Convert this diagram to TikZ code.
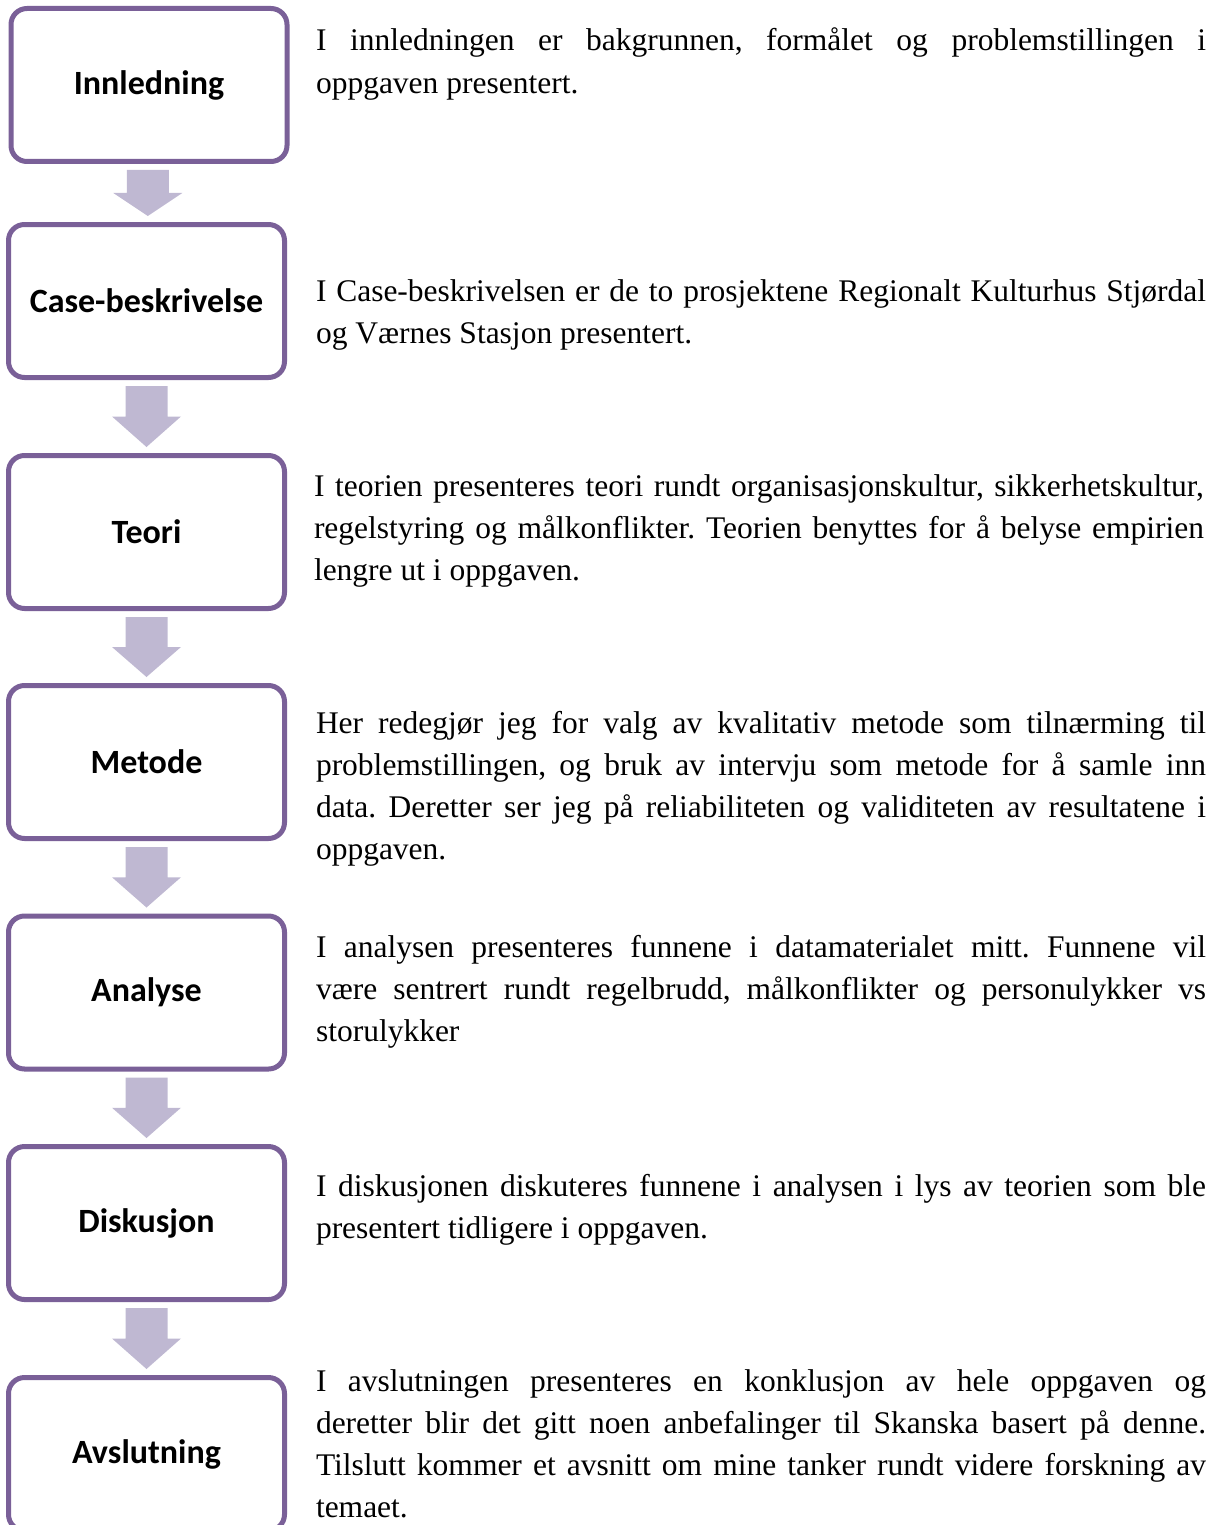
\documentclass[tikz,border=0pt]{standalone}
\usepackage{fontspec}
\setmainfont{Liberation Serif}
\newfontfamily\boxfont{Carlito}
\usetikzlibrary{calc}
\definecolor{boxborder}{RGB}{122,96,152}
\definecolor{arrowfill}{RGB}{191,184,210}
\newcommand\parablock[1]{\vtop{\fontsize{31.5}{42.3}\selectfont\frenchspacing #1}}
\newcommand\jfull[1]{\hbox to 890pt{#1}}
\newcommand\jlast[1]{\hbox to 890pt{#1\hfil}}
\newcommand\flowarrow[2]{%
  \fill[arrowfill] let \p1=(#1.south), \p2=(#2.north),
    \n1={(\x1+\x2)/2}, \n2={(\y1+\y2)/2} in
    ({\n1*1pt-21pt},{\y1-6pt}) -- ({\n1*1pt+21pt},{\y1-6pt})
    -- ({\n1*1pt+21pt},{\n2*1pt}) -- ({\n1*1pt+34.5pt},{\n2*1pt})
    -- ({\n1*1pt},{\y2+6pt}) -- ({\n1*1pt-34.5pt},{\n2*1pt})
    -- ({\n1*1pt-21pt},{\n2*1pt}) -- cycle;}
\begin{document}
\begin{tikzpicture}[x=1pt,y=-1pt,
  stagebox/.style={draw=boxborder, line width=5pt, rounded corners=16pt, fill=white,
    minimum width=276pt, minimum height=153pt, inner sep=0pt,
    font=\boxfont\bfseries\fontsize{34}{40}\selectfont},
  desc/.style={anchor=base west, inner sep=0pt, outer sep=0pt}]
\useasboundingbox (0,0) rectangle (1218,1525);
\clip (0,0) rectangle (1218,1525);

\node[stagebox] (s1) at (149,85) {Innledning};
\node[stagebox] (s2) at (146.5,301) {Case-beskrivelse};
\node[stagebox] (s3) at (146.5,532) {Teori};
\node[stagebox] (s4) at (146.5,762) {Metode};
\node[stagebox] (s5) at (146.5,992.5) {Analyse};
\node[stagebox] (s6) at (146.5,1223) {Diskusjon};
\node[stagebox] (s7) at (146.5,1454) {Avslutning};

\flowarrow{s1}{s2}
\flowarrow{s2}{s3}
\flowarrow{s3}{s4}
\flowarrow{s4}{s5}
\flowarrow{s5}{s6}
\flowarrow{s6}{s7}

\node[desc] (d1) at (316,51) {\parablock{%
  \jfull{I innledningen er bakgrunnen, formålet og problemstillingen i}%
  \jlast{oppgaven presentert.}}};
\node[desc] (d2) at (316,301) {\parablock{%
  \jfull{I Case-beskrivelsen er de to prosjektene Regionalt Kulturhus Stjørdal}%
  \jlast{og Værnes Stasjon presentert.}}};
\node[desc] (d3) at (314,496) {\parablock{%
  \jfull{I teorien presenteres teori rundt organisasjonskultur, sikkerhetskultur,}%
  \jfull{regelstyring og målkonflikter. Teorien benyttes for å belyse empirien}%
  \jlast{lengre ut i oppgaven.}}};
\node[desc] (d4) at (316,733) {\parablock{%
  \jfull{Her redegjør jeg for valg av kvalitativ metode som tilnærming til}%
  \jfull{problemstillingen, og bruk av intervju som metode for å samle inn}%
  \jfull{data. Deretter ser jeg på reliabiliteten og validiteten av resultatene i}%
  \jlast{oppgaven.}}};
\node[desc] (d5) at (316,957) {\parablock{%
  \jfull{I analysen presenteres funnene i datamaterialet mitt. Funnene vil}%
  \jfull{være sentrert rundt regelbrudd, målkonflikter og personulykker vs}%
  \jlast{storulykker}}};
\node[desc] (d6) at (316,1196) {\parablock{%
  \jfull{I diskusjonen diskuteres funnene i analysen i lys av teorien som ble}%
  \jlast{presentert tidligere i oppgaven.}}};
\node[desc] (d7) at (316,1391) {\parablock{%
  \jfull{I avslutningen presenteres en konklusjon av hele oppgaven og}%
  \jfull{deretter blir det gitt noen anbefalinger til Skanska basert på denne.}%
  \jfull{Tilslutt kommer et avsnitt om mine tanker rundt videre forskning av}%
  \jlast{temaet.}}};
\end{tikzpicture}
\end{document}
